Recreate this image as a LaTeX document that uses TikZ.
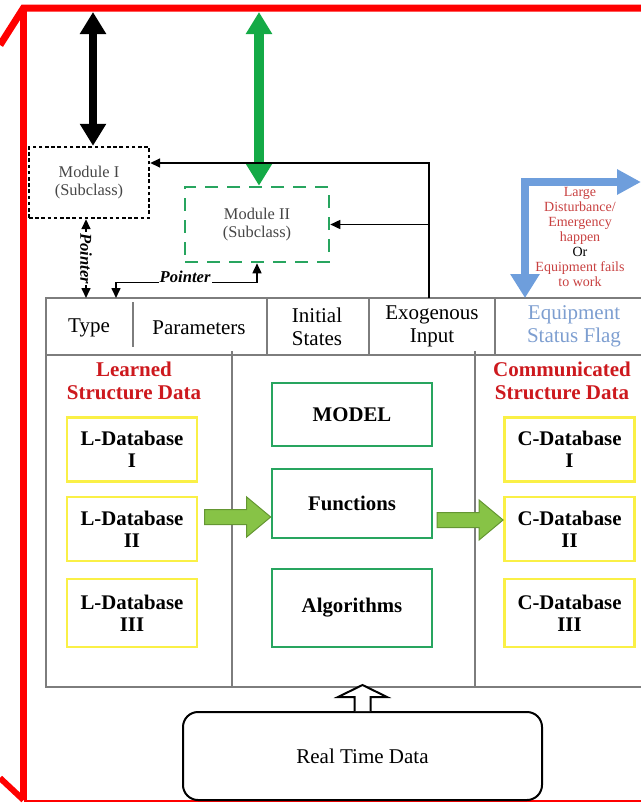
\documentclass[tikz,border=0pt]{standalone}
\usepackage{fontspec}
\setmainfont{Liberation Serif}
\usepackage{xcolor}
\usepackage{tikz}
\usetikzlibrary{arrows.meta,calc}

\definecolor{framered}{RGB}{255,0,0}
\definecolor{boxgreen}{RGB}{40,165,95}
\definecolor{arrowgreen}{RGB}{20,170,70}
\definecolor{blockgreen}{RGB}{135,195,70}
\definecolor{blockedge}{RGB}{100,150,50}
\definecolor{dbyellow}{RGB}{250,240,70}
\definecolor{flagblue}{RGB}{110,158,220}
\definecolor{flagtext}{RGB}{125,158,208}
\definecolor{titlered}{RGB}{205,25,30}
\definecolor{eventred}{RGB}{200,65,65}
\definecolor{rulegray}{RGB}{125,125,125}
\definecolor{modgray}{RGB}{70,70,70}

% fat green arrow whose tip sits at #1
\newcommand{\blockarrow}[1]{%
  \filldraw[fill=blockgreen,draw=blockedge,line width=0.5pt]
    (#1) -- ++(-24,-20) -- ++(0,12.5) -- ++(-42,0) -- ++(0,15)
    -- ++(42,0) -- ++(0,12.5) -- cycle;}

\begin{document}
\begin{tikzpicture}[
  x=0.5pt,y=-0.5pt,
  hdr/.style={align=center,inner sep=0pt,font=\fontsize{10.5}{11.5}\selectfont},
  module/.style={align=center,inner sep=0pt,text=modgray,font=\fontsize{8.2}{9}\selectfont},
  modone/.style={module,draw,line width=1.2pt,dash pattern=on 1.8pt off 1.3pt,minimum width=60pt,minimum height=35.5pt},
  modtwo/.style={module,draw=boxgreen,line width=1.3pt,dash pattern=on 6.5pt off 4.5pt,minimum width=72pt,minimum height=37.5pt},
  dbbox/.style={draw=dbyellow,line width=1.4pt,align=center,inner sep=0pt,minimum width=65pt,minimum height=32pt,font=\fontsize{10.4}{11}\selectfont\bfseries},
  corebox/.style={draw=boxgreen,line width=1.3pt,inner sep=0pt,minimum width=80pt,font=\fontsize{10.4}{11}\selectfont\bfseries},
  sectitle/.style={align=center,inner sep=0pt,text=titlered,font=\fontsize{10.5}{11.5}\selectfont\bfseries},
  tablerule/.style={draw=rulegray,line width=0.6pt},
  conn/.style={draw=black,line width=0.8pt,>={Triangle[length=5pt,width=4.5pt]}},
  ptrlbl/.style={fill=white,inner sep=0.6pt,font=\fontsize{8.3}{9}\selectfont\bfseries\itshape},
  redframe/.style={draw=framered,line width=3.5pt},
  bigtip/.tip={Triangle[length=11pt,width=12.5pt]}
]
  \useasboundingbox (0,0) rectangle (641,803);

  % red frame
  \draw[redframe] (0,45) -- (23.5,8) -- (641,8);
  \draw[redframe] (23.5,8) -- (23.5,800);
  \draw[redframe,line width=3pt] (0,778) -- (23.5,800);
  \draw[framered,line width=1pt] (23.5,801) -- (641,801);

  % modules
  \node[modone] (m1) at (89,182.5) {Module I\\(Subclass)};
  \node[modtwo] (m2) at (257,224.5) {Module II\\(Subclass)};
  \coordinate (m1top) at (93,12);
  \coordinate (m2top) at (259,12);
  \draw[line width=4pt,bigtip-bigtip] (m1top) -- (m1top |- m1.north);
  \draw[arrowgreen,line width=5pt,bigtip-bigtip] (m2top) -- (m2top |- m2.north);

  % table
  \draw[tablerule] (641,298) -- (46,298) -- (46,687) -- (641,687);
  \draw[tablerule] (46,355) -- (641,355);
  \draw[tablerule] (133,302) -- (133,347);
  \foreach \x in {267,369,495} \draw[tablerule] (\x,298) -- (\x,355);
  \foreach \x in {232,475} \draw[tablerule] (\x,351) -- (\x,687);

  \node[hdr] (type) at (89,328) {Type};
  \node[hdr] (params) at (199,328) {Parameters};
  \node[hdr] (init) at (317,326.5) {Initial\\States};
  \node[hdr] (exo) at (432,326.5) {Exogenous\\Input};
  \node[hdr,text=flagtext] (flag) at (574,326.5) {Equipment\\Status Flag};

  % feedback lines and pointers
  \coordinate (exoin) at (429,298);
  \coordinate (jn) at (429,163);
  \draw[conn,->] (exoin) -- (jn) -- (jn -| m1.east);
  \draw[conn,->] (exoin |- m2.east) -- (m2.east);

  \coordinate (ptrA) at (86,298);
  \coordinate (ptrB) at (116,298);
  \draw[conn,<->] (ptrA |- m1.south) -- node[ptrlbl,rotate=-90] {Pointer} (ptrA);
  \draw[conn,<->] (ptrB) |- node[ptrlbl,pos=0.745,anchor=base] {Pointer} ($(m2.south)+(0,19)$) -- (m2.south);

  % status flag
  \coordinate (flagin) at (525,298);
  \coordinate (flagout) at (641,182);
  \draw[flagblue,line width=4.3pt,line join=miter,
    {Triangle[length=12pt,width=14pt]}-{Triangle[length=12pt,width=12pt]}] (flagin) |- (flagout);
  \node[align=center,inner sep=0pt,text=eventred,font=\fontsize{7}{7.5}\selectfont] (event) at (580,237)
    {Large\\Disturbance/\\Emergency\\happen\\\textcolor{black}{Or}\\Equipment fails\\to work};

  % structure data columns
  \node[sectitle] (learned) at (134,380.5) {Learned\\Structure Data};
  \node[sectitle] (comm) at (562,380.5) {Communicated\\Structure Data};

  \node[dbbox] (l1) at (132,449.5) {L-Database\\I};
  \node[dbbox] (l2) at (132,529) {L-Database\\II};
  \node[dbbox,minimum height=34pt] (l3) at (132,613) {L-Database\\III};
  \node[dbbox] (c1) at (569.5,449.5) {C-Database\\I};
  \node[dbbox] (c2) at (569.5,529) {C-Database\\II};
  \node[dbbox,minimum height=34pt] (c3) at (569.5,613) {C-Database\\III};

  \node[corebox,minimum height=31.5pt] (model) at (352,414.5) {MODEL};
  \node[corebox,minimum height=34.5pt] (fn) at (352,503.5) {Functions};
  \node[corebox,minimum height=39pt] (alg) at (352,608) {Algorithms};

  \blockarrow{fn.west |- 0,517}
  \blockarrow{c2.west |- 0,520}

  % real time data
  \node[hdr,draw,line width=1pt,rounded corners=7.5pt,minimum width=179.5pt,minimum height=44pt] (rtd) at (362.5,756) {Real Time Data};
  \draw[line width=1pt,fill=white] ($(rtd.north)+(-8,0)$) -- ++(0,-14) -- ++(-16.5,0)
    -- ++(24.5,-12) -- ++(24.5,12) -- ++(-16.5,0) -- ++(0,14);
\end{tikzpicture}
\end{document}
